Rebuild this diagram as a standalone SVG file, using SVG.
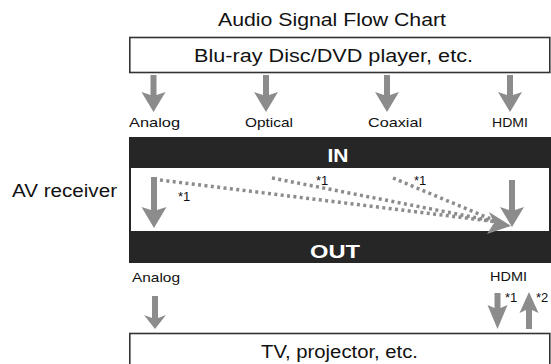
<svg xmlns="http://www.w3.org/2000/svg" width="551" height="364" viewBox="0 0 551 364">
<style>
text{font-family:"Liberation Sans",Arial,sans-serif;fill:#111}
.big{font-size:17.5px}
.lbl{font-size:13px}
.band{font-size:19px;font-weight:bold;fill:#fff}
.box{fill:#fff;stroke:#333;stroke-width:1.6}
.arr{fill:#8c8c8c}
.dot{fill:none;stroke:#8c8c8c;stroke-width:3.5;stroke-dasharray:3 3.4}
</style>
<rect width="551" height="364" fill="#fff"/>
<text class="big" x="332" y="26" text-anchor="middle" textLength="228" lengthAdjust="spacingAndGlyphs">Audio Signal Flow Chart</text>

<g id="source">
<rect class="box" x="129.8" y="37.5" width="420" height="35"/>
<text class="big" x="333.5" y="62" text-anchor="middle" textLength="279" lengthAdjust="spacingAndGlyphs">Blu-ray Disc/DVD player, etc.</text>
</g>

<g id="receiver">
<rect x="129" y="137" width="422" height="126" fill="#262626"/>
<rect x="131" y="168" width="418" height="63" fill="#fff"/>
<text class="band" x="338" y="162" text-anchor="middle" textLength="21" lengthAdjust="spacingAndGlyphs">IN</text>
<text class="band" x="335" y="258" text-anchor="middle" textLength="50" lengthAdjust="spacingAndGlyphs">OUT</text>
<text class="big" x="12" y="197" textLength="105" lengthAdjust="spacingAndGlyphs">AV receiver</text>
</g>

<g id="sink">
<rect class="box" x="129.8" y="333.5" width="420" height="40"/>
<text class="big" x="339.5" y="358" text-anchor="middle" textLength="157" lengthAdjust="spacingAndGlyphs">TV, projector, etc.</text>
</g>

<g id="labels">
<text class="lbl" x="129" y="127" textLength="51" lengthAdjust="spacingAndGlyphs">Analog</text>
<text class="lbl" x="245" y="127" textLength="48" lengthAdjust="spacingAndGlyphs">Optical</text>
<text class="lbl" x="368" y="127" textLength="54" lengthAdjust="spacingAndGlyphs">Coaxial</text>
<text class="lbl" x="492" y="127" textLength="36" lengthAdjust="spacingAndGlyphs">HDMI</text>
<text class="lbl" x="132" y="282" textLength="48" lengthAdjust="spacingAndGlyphs">Analog</text>
<text class="lbl" x="490" y="281" textLength="37" lengthAdjust="spacingAndGlyphs">HDMI</text>
<text class="lbl" x="178" y="201">*1</text>
<text class="lbl" x="316" y="185">*1</text>
<text class="lbl" x="414" y="185">*1</text>
<text class="lbl" x="505" y="302">*1</text>
<text class="lbl" x="536" y="302">*2</text>
</g>

<g id="connectors">
<polygon class="arr" points="150.5,75 156.5,75 156.5,95 165.5,92 153.5,112 141.5,92 150.5,95"/>
<polygon class="arr" points="263,75 269,75 269,95 278,92 266,112 254,92 263,95"/>
<polygon class="arr" points="384,75 390,75 390,95 399,92 387,112 375,92 384,95"/>
<polygon class="arr" points="507,75 513,75 513,95 522,92 510,112 498,92 507,95"/>

<polygon class="arr" points="151,177 157,177 157,210 166.5,207 154,228 141.5,207 151,210"/>
<polygon class="arr" points="509,180 515,180 515,210 524,207 512,227 500,207 509,210"/>

<path class="dot" d="M160,180 L498,222"/>
<path class="dot" d="M272,178 L498,222"/>
<path class="dot" d="M393,178 L498,222"/>
<polygon class="arr" points="511,226 489,212 494,223 487,234"/>

<polygon class="arr" points="152,296 158,296 158,318 166,315 155,329 144,315 152,318"/>
<polygon class="arr" points="494.5,293 500.5,293 500.5,308 507.5,305 497.5,329 487.5,305 494.5,308"/>
<polygon class="arr" points="526,329 532,329 532,310 538.5,313 529,292 519.5,313 526,310"/>
</g>
</svg>
